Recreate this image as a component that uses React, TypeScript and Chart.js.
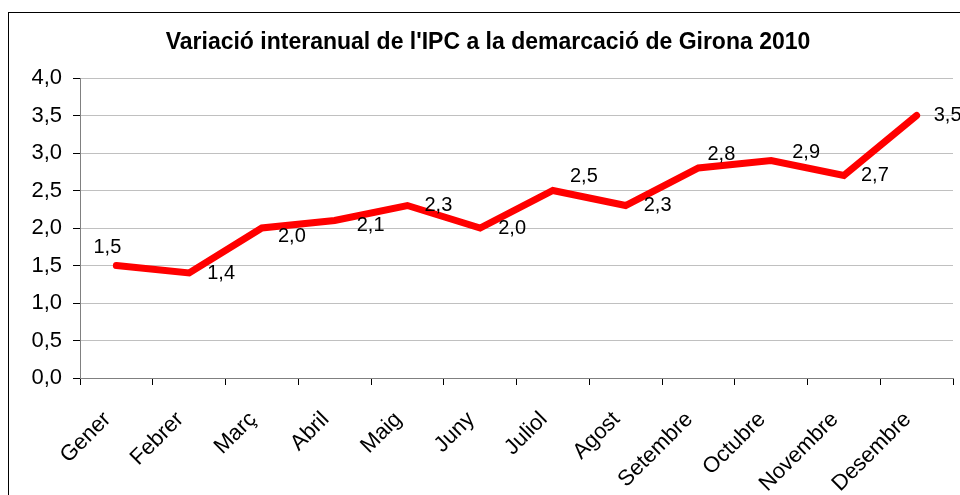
import React, { useEffect, useRef } from "react";
import { Chart, registerables } from "chart.js";

Chart.register(...registerables);

const TITLE = "Variació interanual de l'IPC a la demarcació de Girona 2010";
const months = ["Gener", "Febrer", "Març", "Abril", "Maig", "Juny", "Juliol", "Agost", "Setembre", "Octubre", "Novembre", "Desembre"];
const ipcValues = [1.5, 1.4, 2.0, 2.1, 2.3, 2.0, 2.5, 2.3, 2.8, 2.9, 2.7, 3.5];
// label placement relative to each point (dx, dy in px)
const labelDx = [-9, 32, 30, 36, 31, 32, 31, 32, 23, 35, 31, 31];
const labelDy = [-18, 0, 8, 5, 0, 0, -14, 0, -14, -8, 0, 0];

const FONT = "'Liberation Sans', Arial, sans-serif";
const fmt = (v: number) => v.toFixed(1).replace(".", ",");

const framePlugin = {
  id: "frame",
  beforeDraw(chart: any) {
    const ctx = chart.ctx;
    ctx.save();
    ctx.fillStyle = "#ffffff";
    ctx.fillRect(0, 0, chart.width, chart.height);
    ctx.strokeStyle = "#000000";
    ctx.lineWidth = 1;
    ctx.strokeRect(8.5, 12.5, 2000, 2000);
    ctx.fillStyle = "#000000";
    ctx.font = `bold 23px ${FONT}`;
    ctx.textAlign = "center";
    ctx.textBaseline = "middle";
    ctx.fillText(TITLE, 488, 43);
    ctx.restore();
  },
};

const xLabelPlugin = {
  id: "xLabels",
  afterDraw(chart: any) {
    const ctx = chart.ctx;
    const xs = chart.scales.x;
    ctx.save();
    ctx.fillStyle = "#000000";
    ctx.font = `22px ${FONT}`;
    ctx.textAlign = "right";
    ctx.textBaseline = "middle";
    months.forEach((m, i) => {
      const x = xs.getPixelForTick(i);
      ctx.save();
      ctx.translate(x - 9, xs.top + 38);
      ctx.rotate(-Math.PI / 4);
      ctx.fillText(m, 0, 0);
      ctx.restore();
    });
    ctx.restore();
  },
};

const labelPlugin = {
  id: "dataLabels",
  afterDatasetsDraw(chart: any) {
    const ctx = chart.ctx;
    const meta = chart.getDatasetMeta(0);
    ctx.save();
    ctx.fillStyle = "#000000";
    ctx.font = `20px ${FONT}`;
    ctx.textAlign = "center";
    ctx.textBaseline = "middle";
    meta.data.forEach((pt: any, i: number) => {
      ctx.fillText(fmt(ipcValues[i]), pt.x + labelDx[i], pt.y + labelDy[i]);
    });
    ctx.restore();
  },
};

export default function App() {
  const ref = useRef<HTMLCanvasElement>(null);
  useEffect(() => {
    if (!ref.current) return;
    const chart = new Chart(ref.current, {
      type: "line",
      data: {
        labels: months,
        datasets: [
          {
            data: ipcValues,
            borderColor: "#ff0000",
            backgroundColor: "#ff0000",
            borderWidth: 7,
            pointRadius: 0,
            tension: 0,
            borderCapStyle: "round",
            borderJoinStyle: "miter",
          },
        ],
      },
      options: {
        animation: false,
        responsive: false,
        layout: { padding: { top: 78, right: 7, left: 0, bottom: 0 } },
        plugins: { legend: { display: false }, title: { display: false }, tooltip: { enabled: false } },
        scales: {
          x: {
            offset: true,
            grid: { display: true, drawOnChartArea: false, offset: true, tickLength: 7, tickColor: "#000000", color: "#000000" },
            border: { color: "#808080", width: 1 },
            ticks: { display: false, autoSkip: false },
            afterFit: (s: any) => { s.height = 117; },
          },
          y: {
            min: 0,
            max: 4,
            grid: { color: "#c0c0c0", tickLength: 7, tickColor: "#000000" },
            border: { color: "#808080", width: 1 },
            ticks: {
              stepSize: 0.5,
              color: "#000000",
              font: { family: FONT, size: 22 },
              padding: 11,
              callback: (v: any) => fmt(Number(v)),
            },
            afterFit: (s: any) => { s.width = 80; },
          },
        },
      },
      plugins: [framePlugin, labelPlugin, xLabelPlugin],
    });
    return () => chart.destroy();
  }, []);
  return (
    <div style={{ position: "absolute", left: 0, top: 0, width: 960, height: 495 }}>
      <canvas ref={ref} width={960} height={495} style={{ display: "block" }} />
    </div>
  );
}
